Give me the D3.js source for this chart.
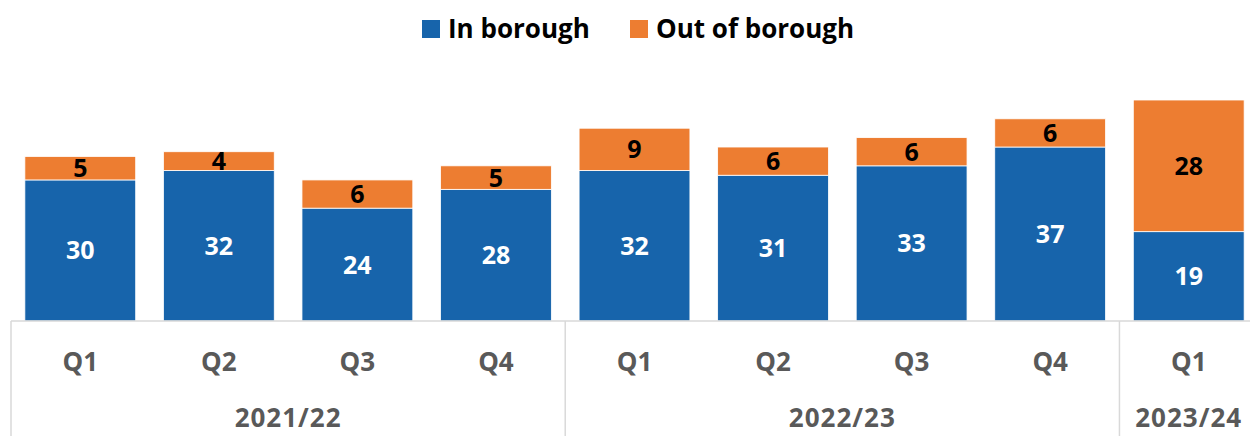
<!DOCTYPE html>
<html>
<head>
<meta charset="utf-8">
<script src="https://cdn.jsdelivr.net/npm/d3@7"></script>
<style>
  html, body { margin: 0; padding: 0; background: #fff; }
  svg { display: block; }
</style>
</head>
<body>
<svg id="chart" width="1250" height="436"></svg>
<script>
// Quarterly counts, split by placement location
const quarters = ["Q1", "Q2", "Q3", "Q4", "Q1", "Q2", "Q3", "Q4", "Q1"];
const years = ["2021/22", "2021/22", "2021/22", "2021/22", "2022/23", "2022/23", "2022/23", "2022/23", "2023/24"];
const inBorough = [30, 32, 24, 28, 32, 31, 33, 37, 19];
const outOfBorough = [5, 4, 6, 5, 9, 6, 6, 6, 28];
const seriesNames = ["In borough", "Out of borough"];
const seriesColors = ["#1764AB", "#ED7D31"];

const svg = d3.select("#chart");
const font = "'Open Sans', sans-serif";

const left = 11, right = 1258, baseY = 321, topY = 100;
const idx = quarters.map((_, i) => i);

const x = d3.scaleBand().domain(idx).range([left, right]).paddingInner(0.2).paddingOuter(0.1);
const y = d3.scaleLinear().domain([0, 47]).range([baseY, topY]);

const rows = idx.map(i => ({ i, inB: inBorough[i], outB: outOfBorough[i] }));
const stack = d3.stack().keys(["inB", "outB"])(rows);

// Stacked bars
const layers = svg.append("g").selectAll("g").data(stack).join("g")
  .attr("fill", (d, k) => seriesColors[k]);
layers.selectAll("rect").data(d => d).join("rect")
  .attr("x", d => x(d.data.i))
  .attr("width", x.bandwidth())
  .attr("y", d => y(d[1]))
  .attr("height", d => y(d[0]) - y(d[1]))
  .attr("stroke", "#fff")
  .attr("stroke-width", 0.8);

// Value labels centred in each segment
layers.each(function (layer, k) {
  d3.select(this).selectAll("text").data(layer).join("text")
    .attr("x", d => x(d.data.i) + x.bandwidth() / 2)
    .attr("y", d => (y(d[0]) + y(d[1])) / 2)
    .attr("dy", "0.36em")
    .attr("text-anchor", "middle")
    .attr("font-family", font)
    .attr("font-weight", "bold")
    .attr("font-size", 25)
    .attr("fill", k === 0 ? "#fff" : "#000")
    .text(d => d[1] - d[0]);
});

// Category axis: baseline and group separators
const axisColor = "#d9d9d9";
const step = x.step();
const axisG = svg.append("g").attr("stroke", axisColor).attr("stroke-width", 1.5);
axisG.append("line").attr("x1", left).attr("x2", 1250).attr("y1", baseY).attr("y2", baseY);

const groups = [];
years.forEach((yr, i) => {
  const last = groups[groups.length - 1];
  if (last && last.name === yr) last.end = i;
  else groups.push({ name: yr, start: i, end: i });
});
const bandStart = i => left + i * step;
const sepXs = [left, ...groups.map(g => bandStart(g.end + 1))];
axisG.selectAll("line.sep").data(sepXs).join("line")
  .attr("class", "sep")
  .attr("x1", d => d).attr("x2", d => d)
  .attr("y1", baseY).attr("y2", 436);

// Quarter labels
svg.append("g").selectAll("text").data(idx).join("text")
  .attr("x", i => x(i) + x.bandwidth() / 2)
  .attr("y", 362)
  .attr("dy", "0.36em")
  .attr("text-anchor", "middle")
  .attr("font-family", font)
  .attr("font-weight", "bold")
  .attr("font-size", 26)
  .attr("fill", "#595959")
  .text(i => quarters[i]);

// Year labels
svg.append("g").selectAll("text").data(groups).join("text")
  .attr("x", g => (bandStart(g.start) + bandStart(g.end + 1)) / 2)
  .attr("y", 418)
  .attr("dy", "0.36em")
  .attr("text-anchor", "middle")
  .attr("font-family", font)
  .attr("font-weight", "bold")
  .attr("font-size", 26)
  .attr("letter-spacing", 1)
  .attr("fill", "#595959")
  .text(g => g.name);

// Legend
const legendItems = [{ x: 422 }, { x: 630 }];
const legend = svg.append("g").selectAll("g").data(seriesNames).join("g")
  .attr("transform", (d, k) => `translate(${legendItems[k].x},0)`);
legend.append("rect").attr("x", 0).attr("y", 20).attr("width", 18).attr("height", 18)
  .attr("fill", (d, k) => seriesColors[k]);
legend.append("text").attr("x", 26).attr("y", 29).attr("dy", "0.36em")
  .attr("font-family", font).attr("font-weight", "bold").attr("font-size", 26)
  .attr("fill", "#000").text(d => d);
</script>
</body>
</html>
